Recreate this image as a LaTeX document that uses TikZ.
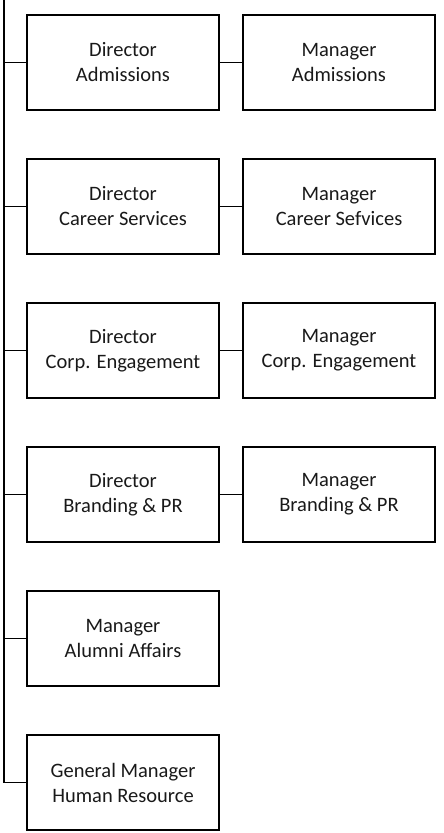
\documentclass[tikz,border=0pt]{standalone}
\usepackage{fontspec}
\setmainfont{Carlito}
\begin{document}
\begin{tikzpicture}[x=1bp,y=-1bp,
  box/.style={draw=black,line width=1.8bp,minimum width=192bp,minimum height=95bp,
    inner sep=0pt,align=center,font=\fontsize{20.5bp}{25bp}\selectfont,text=black!90},
  conn/.style={draw=black,line width=1.8bp}]
\useasboundingbox (0,0) rectangle (444,833);
\coordinate (top) at (4,0);
\node[box] (d1) at (123,62.5) {Director\\Admissions};
\node[box] (m1) at (339,62.5) {Manager\\Admissions};
\node[box] (d2) at (123,206.5) {Director\\Career Services};
\node[box] (m2) at (339,206.5) {Manager\\Career Sefvices};
\node[box] (d3) at (123,350.5) {Director\\Corp. Engagement};
\node[box] (m3) at (339,350.5) {Manager\\Corp. Engagement};
\node[box] (d4) at (123,494.5) {Director\\Branding \& PR};
\node[box] (m4) at (339,494.5) {Manager\\Branding \& PR};
\node[box] (d5) at (123,638.5) {Manager\\Alumni Affairs};
\node[box] (d6) at (123,782.5) {General Manager\\Human Resource};
\draw[conn] (top) |- (d6.west);
\foreach \n in {d1,d2,d3,d4,d5}{
  \draw[conn] (top |- \n.west) -- (\n.west);
}
\foreach \a/\b in {d1/m1,d2/m2,d3/m3,d4/m4}{
  \draw[conn] (\a) -- (\b);
}
\end{tikzpicture}
\end{document}
